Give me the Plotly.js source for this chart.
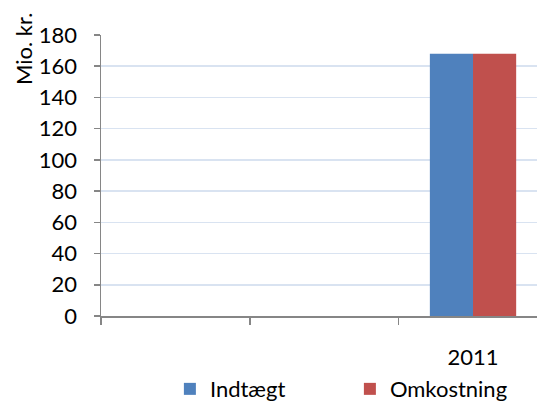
<!DOCTYPE html>
<html>
<head>
<meta charset="utf-8">
<script src="https://cdn.plot.ly/plotly-3.0.1.min.js"></script>
<style>
  html, body { margin: 0; padding: 0; background: #ffffff; }
  #chart { width: 537px; height: 401px; }
</style>
</head>
<body>
<div id="chart"></div>
<script>
// Category slots along the x axis and their printed labels
const categories = [0, 1, 2];
const tickLabels = ["", "", "2011"];

// Series values in Mio. kr. (only the last slot carries data)
const indtaegt = [null, null, 168];
const omkostning = [null, null, 168];

const seriesNames = ["Indtægt", "Omkostning"];
const yTitle = "Mio. kr.";

const FONT = "Lato, 'Open Sans', sans-serif";

const traces = [
  {
    type: "bar",
    name: seriesNames[0],
    x: categories,
    y: indtaegt,
    marker: { color: "#4F81BD" },
    hoverinfo: "none"
  },
  {
    type: "bar",
    name: seriesNames[1],
    x: categories,
    y: omkostning,
    marker: { color: "#C0504D" },
    hoverinfo: "none"
  }
];

const layout = {
  width: 537,
  height: 401,
  margin: { l: 101, r: 0, t: 35, b: 85, autoexpand: false },
  paper_bgcolor: "#ffffff",
  plot_bgcolor: "#ffffff",
  font: { family: FONT, size: 22, color: "#000000" },
  barmode: "group",
  bargap: 0.42,
  bargroupgap: 0,
  showlegend: true,
  legend: {
    orientation: "h",
    x: 0.158,
    xanchor: "left",
    y: -0.26,
    yanchor: "middle",
    entrywidth: 135,
    font: { family: FONT, size: 22, color: "#000000" },
    traceorder: "normal"
  },
  xaxis: {
    type: "category",
    tickvals: categories,
    ticktext: tickLabels,
    range: [-0.5, 2.43],
    tickson: "boundaries",
    ticks: "outside",
    ticklen: 7,
    tickcolor: "#868686",
    tickwidth: 1.5,
    ticklabelstandoff: 21,
    showline: true,
    linecolor: "#868686",
    linewidth: 1.5,
    showgrid: false,
    zeroline: false,
    fixedrange: true
  },
  yaxis: {
    range: [0, 180],
    dtick: 20,
    tick0: 0,
    ticks: "outside",
    ticklen: 6,
    tickcolor: "#868686",
    tickwidth: 1.5,
    ticklabelstandoff: 12,
    showline: true,
    linecolor: "#868686",
    linewidth: 1.5,
    showgrid: true,
    gridcolor: "#D9E3F1",
    gridwidth: 1.5,
    zeroline: false,
    fixedrange: true
  },
  annotations: [
    {
      text: yTitle,
      xref: "paper",
      yref: "paper",
      x: -101 / 436 + 24 / 436,
      y: (316 - 49) / 281,
      xanchor: "center",
      yanchor: "middle",
      textangle: -90,
      showarrow: false,
      font: { family: FONT, size: 22, color: "#000000" }
    }
  ]
};

Plotly.newPlot("chart", traces, layout, { displayModeBar: false, staticPlot: true });
</script>
</body>
</html>
